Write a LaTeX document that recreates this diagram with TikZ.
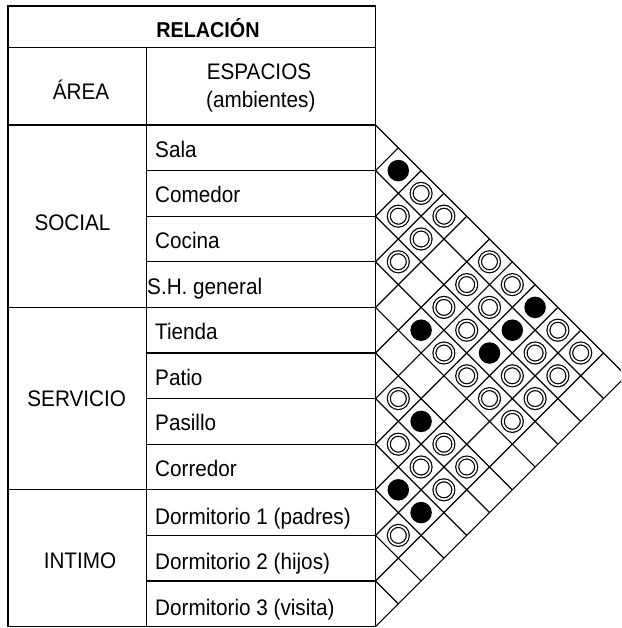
\documentclass[tikz,border=0pt]{standalone}
\usepackage{fontspec}
\setmainfont{Liberation Sans}[FakeStretch=0.92]
\usepackage{tikz}

\begin{document}
\begin{tikzpicture}[x=1pt, y=-1pt,
  rule/.style={line width=1.3pt, black},
  diag/.style={line width=1.2pt, black},
  room/.style={anchor=base west, inner sep=0pt, font=\fontsize{22.5}{25}\selectfont},
  zone/.style={anchor=base, inner sep=0pt, font=\fontsize{22.5}{25}\selectfont},
  head/.style={anchor=base, inner sep=0pt, font=\fontsize{21.5}{25}\selectfont\bfseries},
  full/.style={circle, fill=black, inner sep=0pt, minimum size=21.5pt},
  half/.style={circle, draw=black, line width=1.2pt, double=white, double distance=1.7pt,
               inner sep=0pt, minimum size=19pt}]
\def\xl{8}\def\xm{146.5}\def\xr{375.5}
\def\yt{6}\def\yh{47.5}\def\yo{125}\def\rh{45.6}\def\hd{22.8}
\useasboundingbox (0,0) rectangle (621,628);
\clip (0,0) rectangle (621,628);
% --- table frame ---
\draw[rule] (\xl,\yt) rectangle (\xr,\yo+11*\rh);
\draw[rule] (\xl,\yh) -- (\xr,\yh);
\draw[rule] (\xm,\yh) -- (\xm,\yo+11*\rh);
\foreach \k in {0,4,8} \draw[rule] (\xl,\yo+\k*\rh) -- (\xr,\yo+\k*\rh);
\foreach \k in {1,2,3,5,6,7,9,10} \draw[rule] (\xm,\yo+\k*\rh) -- (\xr,\yo+\k*\rh);
% --- headers ---
\node[head] (R) at (208,37.3) {RELACIÓN};
\node[zone] (A) at (81,100) {ÁREA};
\node[zone] (E1) at (259,80) {ESPACIOS};
\node[zone] (E2) at (260.8,107.5) {(ambientes)};
% --- areas ---
\node[zone] (Z1) at (72.5,230) {SOCIAL};
\node[zone] (Z2) at (76.7,406.7) {SERVICIO};
\node[zone] (Z3) at (80,568.3) {INTIMO};
% --- spaces ---
\foreach \k/\t/\dx/\dy in {1/Sala/155/9.5, 2/Comedor/155/9.5, 3/Cocina/155/9.5, 4/S.H. general/147/9.5,
    5/Tienda/155/9.5, 6/Patio/155/9.5, 7/Pasillo/155/9.5, 8/Corredor/155/9.5,
    9/Dormitorio 1 (padres)/155/11.5, 10/Dormitorio 2 (hijos)/155/11.5, 11/Dormitorio 3 (visita)/155/11.5}
  \node[room] (s\k) at (\dx,\yo+\k*\rh-0.5*\rh+\dy) {\t};
% --- relation triangle ---
\foreach \k in {0,...,11} {
  \draw[diag] (\xr,\yo+\k*\rh) -- ++({(11-\k)*\hd},{(11-\k)*\hd});
  \draw[diag] (\xr,\yo+\k*\rh) -- ++({\k*\hd},{-\k*\hd});
}
% strong relation
\foreach \i/\j in {1/2,1/8,2/8,3/8,4/6,6/8,8/9,8/10}
  \node[full] (d\i-\j) at ({\xr+(\j-\i)*\hd},{\yo+(\i+\j-1)*\hd}) {};
% weak relation
\foreach \i/\j in {1/3,2/3,1/4,2/4,3/4,1/6,2/6,1/7,3/6,2/7,3/7,1/9,4/7,2/9,1/10,4/8,3/9,2/10,
    6/7,4/9,3/10,4/10,7/8,6/9,7/9,6/10,7/10,9/10}
  \node[half] (d\i-\j) at ({\xr+(\j-\i)*\hd},{\yo+(\i+\j-1)*\hd}) {};
\end{tikzpicture}
\end{document}
